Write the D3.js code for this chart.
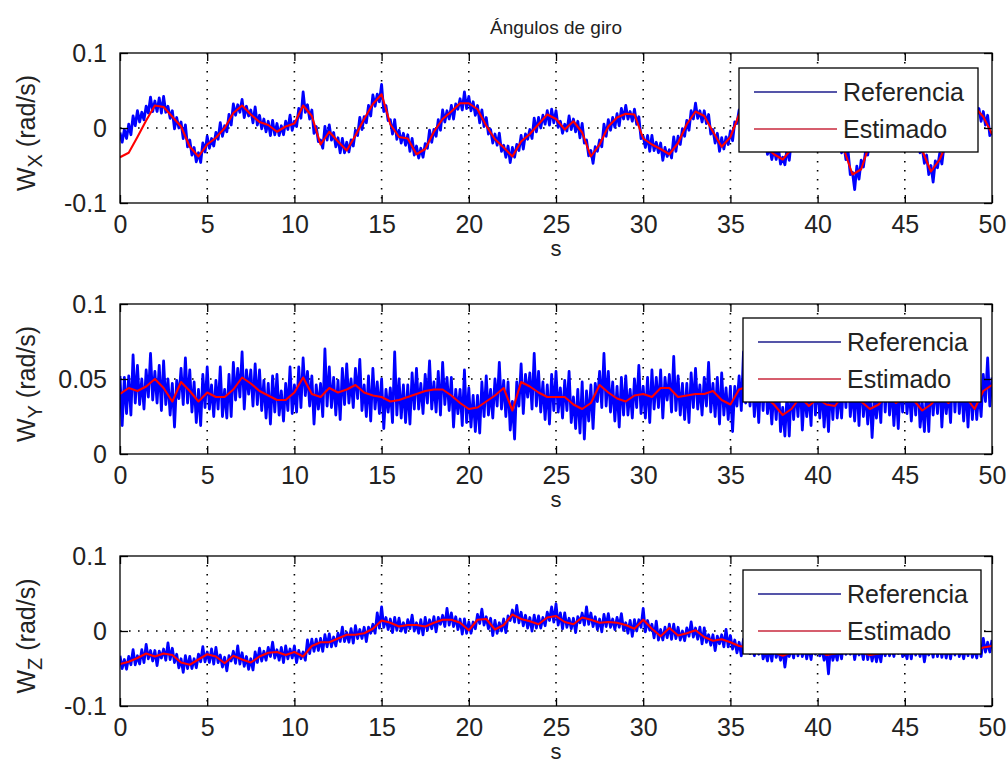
<!DOCTYPE html>
<html>
<head>
<meta charset="utf-8">
<script src="https://cdn.jsdelivr.net/npm/d3@7"></script>
<style>
  html, body { margin: 0; padding: 0; background: #fff; }
  svg { display: block; font-family: "Liberation Sans", Arial, Helvetica, sans-serif; }
</style>
</head>
<body>
<svg id="fig" width="1008" height="778"></svg>
<script>
// Angular rates in mrad/s. "Referencia" is sampled every 0.125 s, "Estimado" every 0.5 s, over 0..50 s.
const wxReferencia = [
  -6,-19,-2,-14, 5,-9,16,3, 23,8,21,11, 29,20,41,22, 36,22,40,20, 42,21,29,13, 23,-1,14,0, 8,-14,4,-25,
  -16,-36,-26,-45, -33,-46,-20,-32, -11,-27,-14,-24, -6,-15,7,-11, 3,-5,18,4, 32,17,31,21, 38,14,29,16, 24,7,28,4,
  17,-1,12,-5, 9,-10,10,-9, 6,-10,3,-9, 9,-2,17,-3, 9,2,26,13, 48,21,31,12, 24,-7,2,-18, -16,-27,2,-16,
  4,-16,-6,-25, -13,-33,-14,-33, -19,-32,-16,-24, -3,-10,14,-2, 15,7,30,16, 44,29,45,35, 58,22,30,10, 11,-8,11,-15,
  -3,-20,-7,-23, -9,-31,-14,-36, -24,-40,-27,-39, -21,-27,-3,-19, -2,-11,11,-3, 24,8,23,12, 30,12,32,25, 39,24,48,26,
  42,23,35,17, 30,7,24,2, 14,-8,-2,-20, -8,-23,-7,-31, -23,-39,-24,-46, -26,-39,-22,-30, -10,-28,-8,-15, -2,-14,13,-5,
  14,0,17,5, 23,4,25,7, 23,1,9,-7, 5,-4,16,-2, 12,-5,9,-13, 6,-20,-16,-37, -30,-47,-25,-31, -16,-25,5,-11,
  11,-3,14,1, 19,3,26,12, 30,12,22,9, 25,5,15,-14, -11,-26,-10,-31, -10,-30,-19,-33, -20,-43,-26,-38, -29,-40,-12,-31,
  -11,-22,-1,-11, 10,-3,23,12, 33,13,23,8, 23,6,18,-8, -2,-20,-7,-31, -13,-28,-12,-22, -4,-17,8,6, 24,10,34,13,
  29,8,19,-1, 10,-15,0,-24, -14,-35,-26,-42, -28,-42,-26,-48, -39,-49,-27,-43, -16,-28,-10,-18, 3,-14,8,1, 16,0,23,-1,
  14,-5,8,-11, 3,-16,4,-14, 1,-22,-15,-33, -21,-42,-32,-62, -59,-82,-51,-68, -43,-52,-31,-36, -12,-27,-2,-6, 11,-2,24,3,
  21,2,15,-3, 10,-10,10,-9, 6,-13,-4,-18, -3,-20,-7,-33, -27,-47,-36,-62, -50,-72,-44,-53, -34,-48,-24,-27, -9,-18,12,-5,
  17,3,20,7, 25,10,34,20, 39,18,26,9, 22,4,17,-10, -5
];
const wxEstimado = [
  -39,-33,-12,10,30,28,15,2,-25,-38,
  -22,-13,0,20,30,18,8,4,-5,2,
  6,30,16,-22,-5,-18,-30,-10,12,32,
  45,5,-12,-14,-35,-28,-5,12,22,33,
  33,25,3,-15,-26,-38,-18,-8,5,18,
  12,-2,9,-6,-38,-22,2,14,19,18,
  -14,-22,-28,-35,-20,5,22,16,-5,-25,
  -12,18,20,5,-25,-35,-42,-28,-5,10,
  5,-2,-10,-28,-62,-55,-20,5,12,5,
  -5,-10,-30,-58,-42,-15,8,20,28,15,
  -8
];

const wyReferencia = [
  52,19,51,27, 52,26,66,34, 59,33,50,30, 56,38,67,36, 55,34,59,29, 62,33,50,26, 47,18,49,37, 57,33,64,34,
  56,28,48,21, 43,19,53,31, 58,30,46,25, 49,30,58,25, 43,24,53,25, 61,36,57,38, 68,30,56,40, 56,32,60,33,
  56,29,49,24, 47,20,52,28, 53,26,42,22, 47,29,58,27, 46,28,58,31, 64,39,55,32, 52,20,46,30, 47,25,70,32,
  58,31,51,26, 49,23,57,33, 60,34,50,31, 57,37,63,29, 46,25,52,22, 57,30,48,27, 50,17,43,28, 44,21,68,26,
  50,24,46,21, 46,20,54,30, 57,30,47,27, 53,34,62,30, 48,28,55,26, 61,33,51,29, 51,18,43,27, 43,19,56,21,
  44,18,39,15, 39,14,48,25, 52,26,43,24, 50,32,61,30, 49,25,48,16, 35,10,48,32, 60,27,53,38, 54,30,67,32,
  55,28,48,23, 46,20,53,29, 55,28,44,24, 49,29,55,21, 38,17,43,14, 48,10,42,22, 46,17,47,35, 55,31,67,32,
  55,28,48,22, 45,18,51,26, 52,26,43,24, 50,31,59,27, 45,24,51,21, 56,30,51,31, 56,24,51,36, 53,28,65,29,
  52,26,47,23, 47,21,54,31, 57,30,46,26, 51,32,61,28, 47,25,51,20, 54,26,44,23, 45,15,45,32, 52,29,68,34,
  59,32,51,25, 48,21,54,29, 55,27,41,20, 44,23,49,15, 31,12,40,12, 48,23,44,25, 50,16,42,25, 41,19,58,26,
  51,24,44,18, 41,15,47,23, 49,24,42,24, 51,31,59,25, 43,22,48,19, 53,25,42,20, 42,11,38,24, 42,21,60,28,
  54,26,46,19, 42,17,51,28, 55,27,43,22, 47,26,52,18, 34,15,43,15, 51,26,46,27, 52,18,44,27, 43,21,60,28,
  53,27,47,22, 46,18,49,23, 47,23,42,25, 53,35,64,32, 51
];
const wyEstimado = [
  40,44,42,45,50,44,35,48,42,35,
  41,38,38,43,51,47,42,39,36,36,
  41,51,40,38,44,41,43,46,41,39,
  38,35,36,38,40,42,43,43,39,34,
  30,31,35,39,44,29,48,45,41,38,
  38,38,33,30,34,46,41,37,35,39,
  40,38,44,44,38,39,40,40,42,36,
  33,43,45,40,38,33,26,30,38,32,
  37,33,32,40,38,35,30,33,40,34,
  38,36,29,33,40,34,39,38,30,42,
  46
];

const wzReferencia = [
  -33,-50,-38,-51, -34,-45,-25,-45, -33,-44,-25,-42, -18,-37,-26,-40, -26,-46,-27,-36, -24,-39,-16,-38, -23,-42,-31,-49, -37,-55,-33,-50,
  -34,-50,-37,-49, -31,-41,-21,-41, -28,-42,-24,-44, -22,-42,-32,-48, -35,-53,-33,-40, -27,-43,-20,-44, -29,-47,-34,-51, -37,-52,-28,-42,
  -23,-40,-27,-39, -22,-34,-15,-36, -25,-39,-22,-42, -20,-37,-24,-36, -20,-42,-26,-37, -28,-39,-12,-30, -11,-27,-11,-26, -10,-27,-5,-21,
  -4,-21,-8,-20, -3,-14,5,-14, -2,-15,3,-16, 7,-10,2,-10, 5,-14,5,-3, 9,-3,24,4, 32,5,18,2, 16,-2,18,1,
  17,0,11,-2, 15,3,21,0, 11,-3,15,-5, 18,1,15,3, 19,-1,18,9, 21,6,30,8, 24,6,19,2, 16,-4,16,-3,
  12,-3,12,3, 22,10,29,8, 19,3,17,-6, 14,-3,11,0, 16,-2,20,14, 28,12,34,11, 25,7,21,4, 18,0,21,4,
  20,4,18,7, 25,14,32,12, 36,8,24,3, 24,5,17,3, 17,-2,19,11, 24,8,32,9, 24,6,19,2, 16,-1,22,6,
  23,5,16,2, 18,5,23,1, 11,-3,14,-7, 15,0,15,5, 30,-1,14,1, 9,-9,13,-12, 2,-12,5,-9, 9,-11,9,-10,
  5,-12,0,-13, 4,-7,12,-8, 4,-11,5,-17, 4,-15,-5,-19, -5,-26,-7,-17, -5,-21,2,-21, -6,-24,-12,-29, -15,-33,-11,-28,
  -11,-30,-20,-33, -18,-31,-15,-37, -27,-40,-21,-40, -16,-35,-25,-39, -25,-48,-26,-34, -22,-36,-12,-33, -16,-34,-20,-37, -22,-38,-16,-31,
  -13,-33,-24,-39, -25,-57,-18,-39, -27,-39,-20,-37, -13,-31,-18,-31, -16,-38,-21,-32, -22,-38,-15,-38, -23,-40,-25,-41, -25,-41,-18,-33,
  -15,-33,-21,-34, -17,-30,-13,-34, -24,-37,-18,-37, -13,-32,-21,-34, -20,-41,-22,-32, -20,-35,-12,-34, -18,-35,-20,-36, -20,-37,-16,-32,
  -15,-34,-23,-37, -21,-33,-15,-35, -24,-36,-17,-34, -10,-28,-15,-28, -12
];
const wzEstimado = [
  -44,-41,-36,-30,-34,-30,-32,-42,-45,-38,
  -31,-34,-43,-33,-38,-42,-34,-29,-28,-32,
  -28,-34,-20,-15,-15,-10,-5,-5,-3,3,
  14,11,6,8,8,6,11,15,15,11,
  1,15,16,2,8,22,16,13,9,18,
  20,12,9,18,15,11,12,11,8,3,
  15,3,-7,4,-6,-3,1,-8,-13,-11,
  -15,-20,-22,-25,-30,-28,-33,-28,-25,-27,
  -24,-32,-30,-25,-24,-28,-32,-30,-26,-24,
  -27,-25,-28,-26,-27,-25,-26,-28,-27,-22,
  -20
];

// Axis ticks and labels
const timeSpan = [0, 50];
const xTicks = [0, 5, 10, 15, 20, 25, 30, 35, 40, 45, 50];
const xTickLabels = ["0", "5", "10", "15", "20", "25", "30", "35", "40", "45", "50"];
const yTicksSigned = [-0.1, 0, 0.1];
const yTickLabelsSigned = ["-0.1", "0", "0.1"];
const yTicksPositive = [0, 0.05, 0.1];
const yTickLabelsPositive = ["0", "0.05", "0.1"];
const seriesNames = ["Referencia", "Estimado"];
const axisNames = ["X", "Y", "Z"];
const titleText = "Ángulos de giro";
const xLabelText = "s";

// Layout
const W = 1008, Hfig = 778;
const plotLeft = 120, plotRight = 992, plotH = 150;
const FONT = 25;
const panels = [
  { ref: wxReferencia, est: wxEstimado, axis: axisNames[0], domain: [-0.1, 0.1],
    ticks: yTicksSigned, labels: yTickLabelsSigned, grid: 0, top: 53,
    legend: { x: 739, y: 68, w: 239, h: 84 } },
  { ref: wyReferencia, est: wyEstimado, axis: axisNames[1], domain: [0, 0.1],
    ticks: yTicksPositive, labels: yTickLabelsPositive, grid: 0.05, top: 304,
    legend: { x: 743, y: 318, w: 238, h: 84 } },
  { ref: wzReferencia, est: wzEstimado, axis: axisNames[2], domain: [-0.1, 0.1],
    ticks: yTicksSigned, labels: yTickLabelsSigned, grid: 0, top: 556,
    legend: { x: 743, y: 570, w: 238, h: 84 } }
];

const svg = d3.select("#fig");
svg.append("rect").attr("width", W).attr("height", Hfig).attr("fill", "#fff");

const x = d3.scaleLinear().domain(timeSpan).range([plotLeft, plotRight]);

// Samples are evenly spaced over the time span
const withTime = arr => arr.map((v, i) => ({ t: timeSpan[0] + i * (timeSpan[1] - timeSpan[0]) / (arr.length - 1), v: v / 1000 }));

const colors = { ref: "#0000ff", est: "#ff0000" };
const legendColors = { ref: "#1c1c8c", est: "#c8283c" };
const textColor = "#222";

panels.forEach((p, idx) => {
  const y = d3.scaleLinear().domain(p.domain).range([p.top + plotH, p.top]);
  const g = svg.append("g");

  const clipId = "clip" + idx;
  g.append("clipPath").attr("id", clipId)
    .append("rect").attr("x", plotLeft).attr("y", p.top)
    .attr("width", plotRight - plotLeft).attr("height", plotH);

  // dotted grid
  const grid = g.append("g").attr("stroke", "#000").attr("stroke-width", 1.6)
    .attr("stroke-dasharray", "1.6,7.4").attr("fill", "none");
  xTicks.filter(t => t > timeSpan[0] && t < timeSpan[1]).forEach(t => {
    grid.append("line").attr("x1", x(t)).attr("x2", x(t)).attr("y1", p.top).attr("y2", p.top + plotH);
  });
  grid.append("line").attr("x1", plotLeft).attr("x2", plotRight).attr("y1", y(p.grid)).attr("y2", y(p.grid));

  // series
  const line = d3.line().x(d => x(d.t)).y(d => y(d.v));
  const data = g.append("g").attr("clip-path", `url(#${clipId})`);
  data.append("path").datum(withTime(p.ref)).attr("d", line)
    .attr("fill", "none").attr("stroke", colors.ref).attr("stroke-width", 2.8)
    .attr("stroke-linejoin", "round");
  data.append("path").datum(withTime(p.est)).attr("d", line)
    .attr("fill", "none").attr("stroke", colors.est).attr("stroke-width", 2.1)
    .attr("stroke-linejoin", "round");

  // axes box and inward ticks
  const styleAxis = sel => {
    sel.select(".domain").remove();
    sel.selectAll(".tick line").attr("stroke", "#000").attr("stroke-width", 1.3);
    sel.selectAll(".tick text").attr("fill", textColor).style("font-size", FONT + "px")
      .style("font-family", '"Liberation Sans", Arial, sans-serif');
  };
  g.append("g").attr("transform", `translate(0,${p.top + plotH})`)
    .call(d3.axisBottom(x).tickValues(xTicks).tickFormat((d, i) => xTickLabels[i])
      .tickSizeInner(-8).tickSizeOuter(0).tickPadding(12))
    .call(styleAxis);
  g.append("g").attr("transform", `translate(0,${p.top})`)
    .call(d3.axisTop(x).tickValues(xTicks).tickFormat("").tickSizeInner(-8).tickSizeOuter(0))
    .call(styleAxis);
  g.append("g").attr("transform", `translate(${plotLeft},0)`)
    .call(d3.axisLeft(y).tickValues(p.ticks).tickFormat((d, i) => p.labels[i])
      .tickSizeInner(-8).tickSizeOuter(0).tickPadding(13))
    .call(styleAxis);
  g.append("g").attr("transform", `translate(${plotRight},0)`)
    .call(d3.axisRight(y).tickValues(p.ticks).tickFormat("").tickSizeInner(-8).tickSizeOuter(0))
    .call(styleAxis);
  g.append("rect").attr("x", plotLeft).attr("y", p.top)
    .attr("width", plotRight - plotLeft).attr("height", plotH)
    .attr("fill", "none").attr("stroke", "#000").attr("stroke-width", 1.3);

  // x label
  g.append("text").attr("x", (plotLeft + plotRight) / 2).attr("y", p.top + plotH + 53)
    .attr("text-anchor", "middle").attr("fill", textColor).style("font-size", "22px")
    .text(xLabelText);

  // y label with subscript
  const yl = g.append("text")
    .attr("transform", `translate(35,${p.top + plotH / 2 + 5}) rotate(-90)`)
    .attr("text-anchor", "middle").attr("fill", textColor).style("font-size", FONT + "px");
  yl.append("tspan").text("W");
  yl.append("tspan").attr("dy", 7).style("font-size", "20px").text(p.axis);
  yl.append("tspan").attr("dy", -7).text(" (rad/s)");

  // legend
  const L = p.legend;
  const lg = g.append("g");
  lg.append("rect").attr("x", L.x).attr("y", L.y).attr("width", L.w).attr("height", L.h)
    .attr("fill", "#fff").attr("stroke", "#000").attr("stroke-width", 1.3);
  [legendColors.ref, legendColors.est].forEach((c, k) => {
    const ly = L.y + 24 + k * 37;
    lg.append("line").attr("x1", L.x + 15).attr("x2", L.x + 98).attr("y1", ly).attr("y2", ly)
      .attr("stroke", c).attr("stroke-width", 1.5);
    lg.append("text").attr("x", L.x + 104).attr("y", ly + 9).attr("fill", textColor)
      .style("font-size", FONT + "px").text(seriesNames[k]);
  });
});

// title
svg.append("text").attr("x", (plotLeft + plotRight) / 2).attr("y", 34)
  .attr("text-anchor", "middle").attr("fill", textColor).style("font-size", "19px")
  .text(titleText);
</script>
</body>
</html>
